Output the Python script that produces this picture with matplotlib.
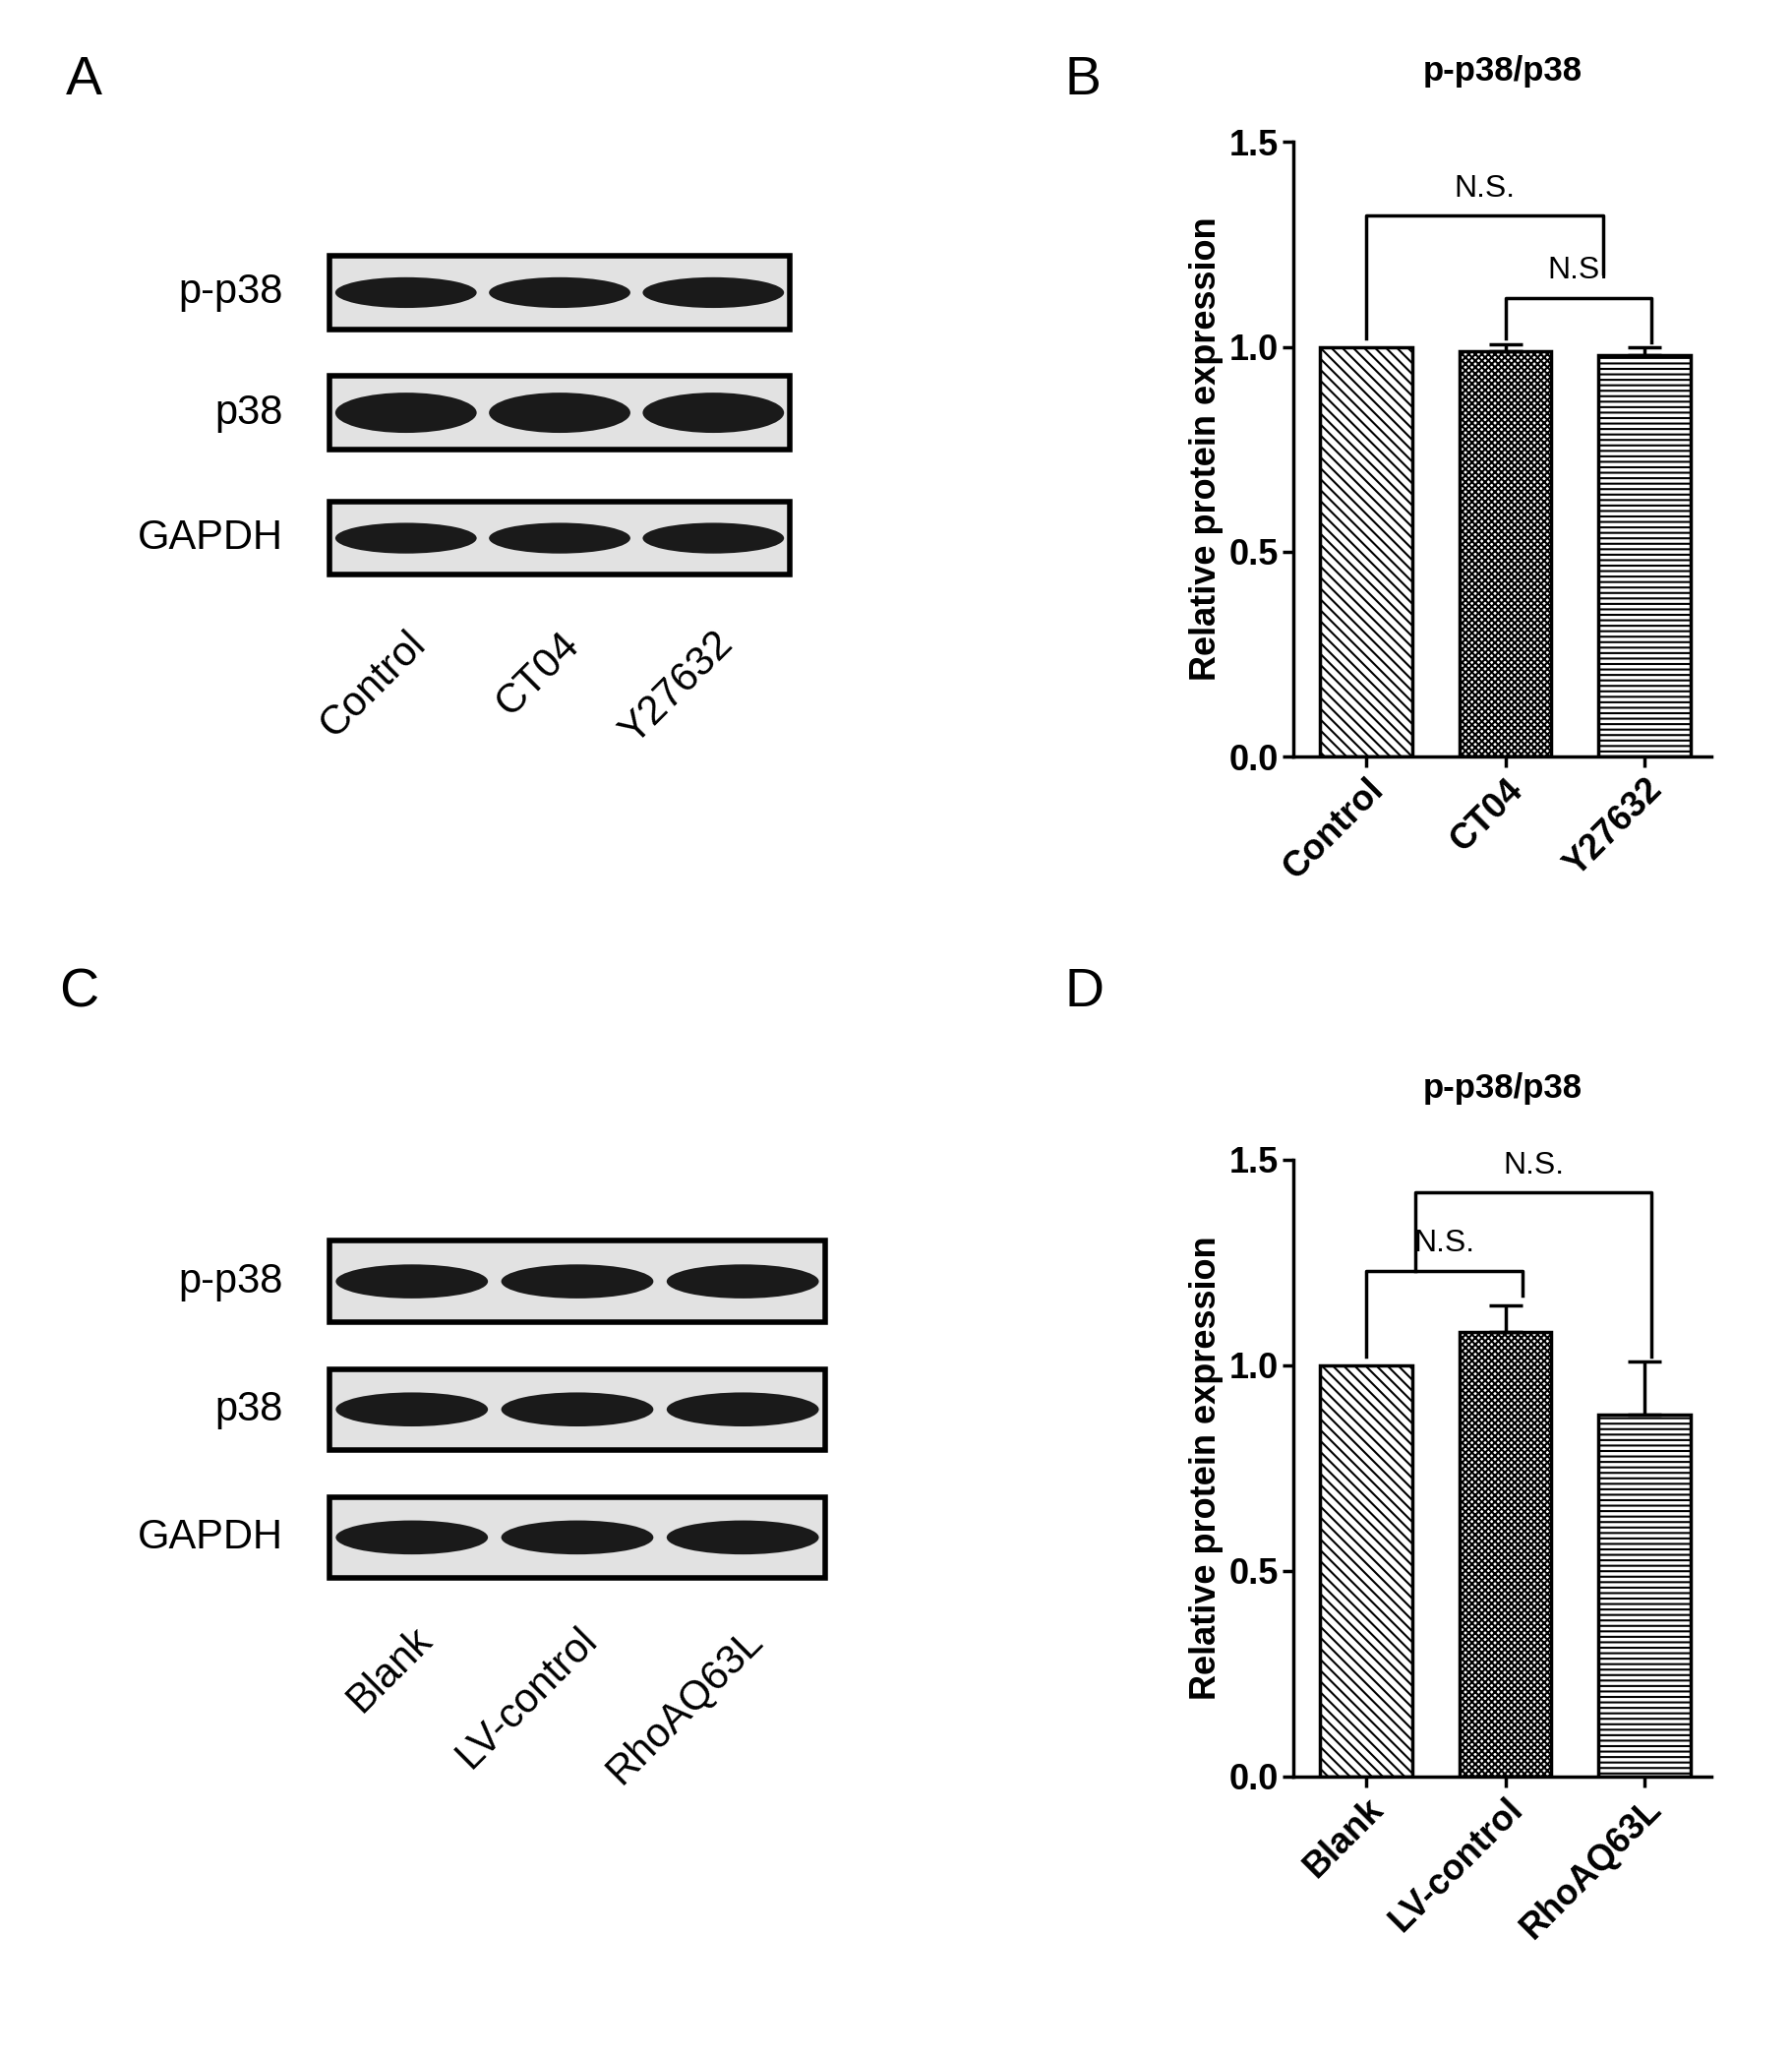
import matplotlib
matplotlib.use("Agg")
import matplotlib.pyplot as plt
from matplotlib.patches import Rectangle, Ellipse
import numpy as np

plt.rcParams['font.family'] = ['Liberation Sans', 'DejaVu Sans']

cats_b = ["Control", "CT04", "Y27632"]
vals_b = [1.0, 0.99, 0.98]
err_b = [0.0, 0.015, 0.02]
cats_d = ["Blank", "LV-control", "RhoAQ63L"]
vals_d = [1.0, 1.08, 0.88]
err_d = [0.0, 0.065, 0.13]
hatches = ["\\\\\\", "xxxxx", "---"]
blot_rows = ["p-p38", "p38", "GAPDH"]

W, H = 1372, 1574
fig = plt.figure(figsize=(18.22, 20.90), dpi=100)
plt.rcParams['hatch.linewidth'] = 1.5

def fx(x): return x / W
def fy(y): return 1 - y / H

for t, x, y in [("A", 50, 62), ("B", 815, 62), ("C", 45, 760), ("D", 815, 760)]:
    fig.text(fx(x), fy(y), t, fontsize=40, ha="left", va="center")

bg = fig.add_axes([0, 0, 1, 1], zorder=-1)
bg.set_xlim(0, W); bg.set_ylim(H, 0); bg.axis("off")

def blot(x0, x1, tops, h, cats, lab_y, shift):
    lw = (x1 - x0) / 3
    for top, name in zip(tops, blot_rows):
        bg.add_patch(Rectangle((x0, top), x1 - x0, h, fc="#e2e2e2", ec="black", lw=4))
        for j in range(3):
            cx = x0 + lw * (j + 0.5)
            bh = h * (0.55 if name == "p38" and x1 < 620 else 0.42)
            bg.add_patch(Ellipse((cx, top + h / 2), lw * 0.92, bh, fc="#1a1a1a", ec="none"))
        bg.text(x0 - 35, top + h / 2, name, fontsize=30, ha="right", va="center")
    for j, c in enumerate(cats):
        cx = x0 + lw * (j + 0.5) + shift
        bg.text(cx, lab_y, c, fontsize=30, rotation=45, ha="right", va="top", rotation_mode="anchor")

blot(252, 605, [196, 288, 384], 56, cats_b, 478, 0)
blot(252, 632, [950, 1048, 1146], 62, cats_d, 1240, 0)

def barpanel(rect, cats, vals, errs, title, brackets):
    ax = fig.add_axes(rect)
    x = np.arange(3)
    for i in range(3):
        ax.bar(x[i], vals[i], width=0.66, color="white", edgecolor="black", lw=2.5, hatch=hatches[i], zorder=2)
        if errs[i] > 0:
            ax.errorbar(x[i], vals[i], yerr=[[0], [errs[i]]], color="black", capsize=12, capthick=2.5, elinewidth=2.5, zorder=3)
    ax.set_xlim(-0.52, 2.48)
    ax.set_ylim(0, 1.5)
    ax.set_yticks([0, 0.5, 1.0, 1.5])
    ax.set_yticklabels(["0.0", "0.5", "1.0", "1.5"], fontsize=26, fontweight="bold")
    ax.set_xticks(x)
    ax.set_xticklabels(cats, fontsize=26, fontweight="bold", rotation=45, ha="right", rotation_mode="anchor")
    for s in ["top", "right"]: ax.spines[s].set_visible(False)
    for s in ["left", "bottom"]: ax.spines[s].set_linewidth(2.5)
    ax.tick_params(width=2.5, length=8)
    ax.set_ylabel("Relative protein expression", fontsize=26, fontweight="bold")
    ax.set_title(title, fontsize=25, fontweight="bold", pad=45)
    for (xa, ya, xb, yb, top) in brackets:
        ax.plot([xa, xa, xb, xb], [ya, top, top, yb], color="black", lw=2.5, clip_on=False)
        ax.text((xa + xb) / 2, top + 0.03, "N.S.", fontsize=23, ha="center", va="bottom")
    return ax

barpanel([0.722, 0.632, 0.233, 0.299], cats_b, vals_b, err_b, "p-p38/p38",
         [(0, 1.02, 1.7, 1.18, 1.32), (1, 1.02, 2.05, 1.01, 1.12)])
barpanel([0.722, 0.136, 0.233, 0.300], cats_d, vals_d, err_d, "p-p38/p38",
         [(0, 1.02, 1.12, 1.17, 1.23), (0.35, 1.23, 2.05, 1.02, 1.42)])

fig.savefig("out.png", dpi=100, facecolor="white")
